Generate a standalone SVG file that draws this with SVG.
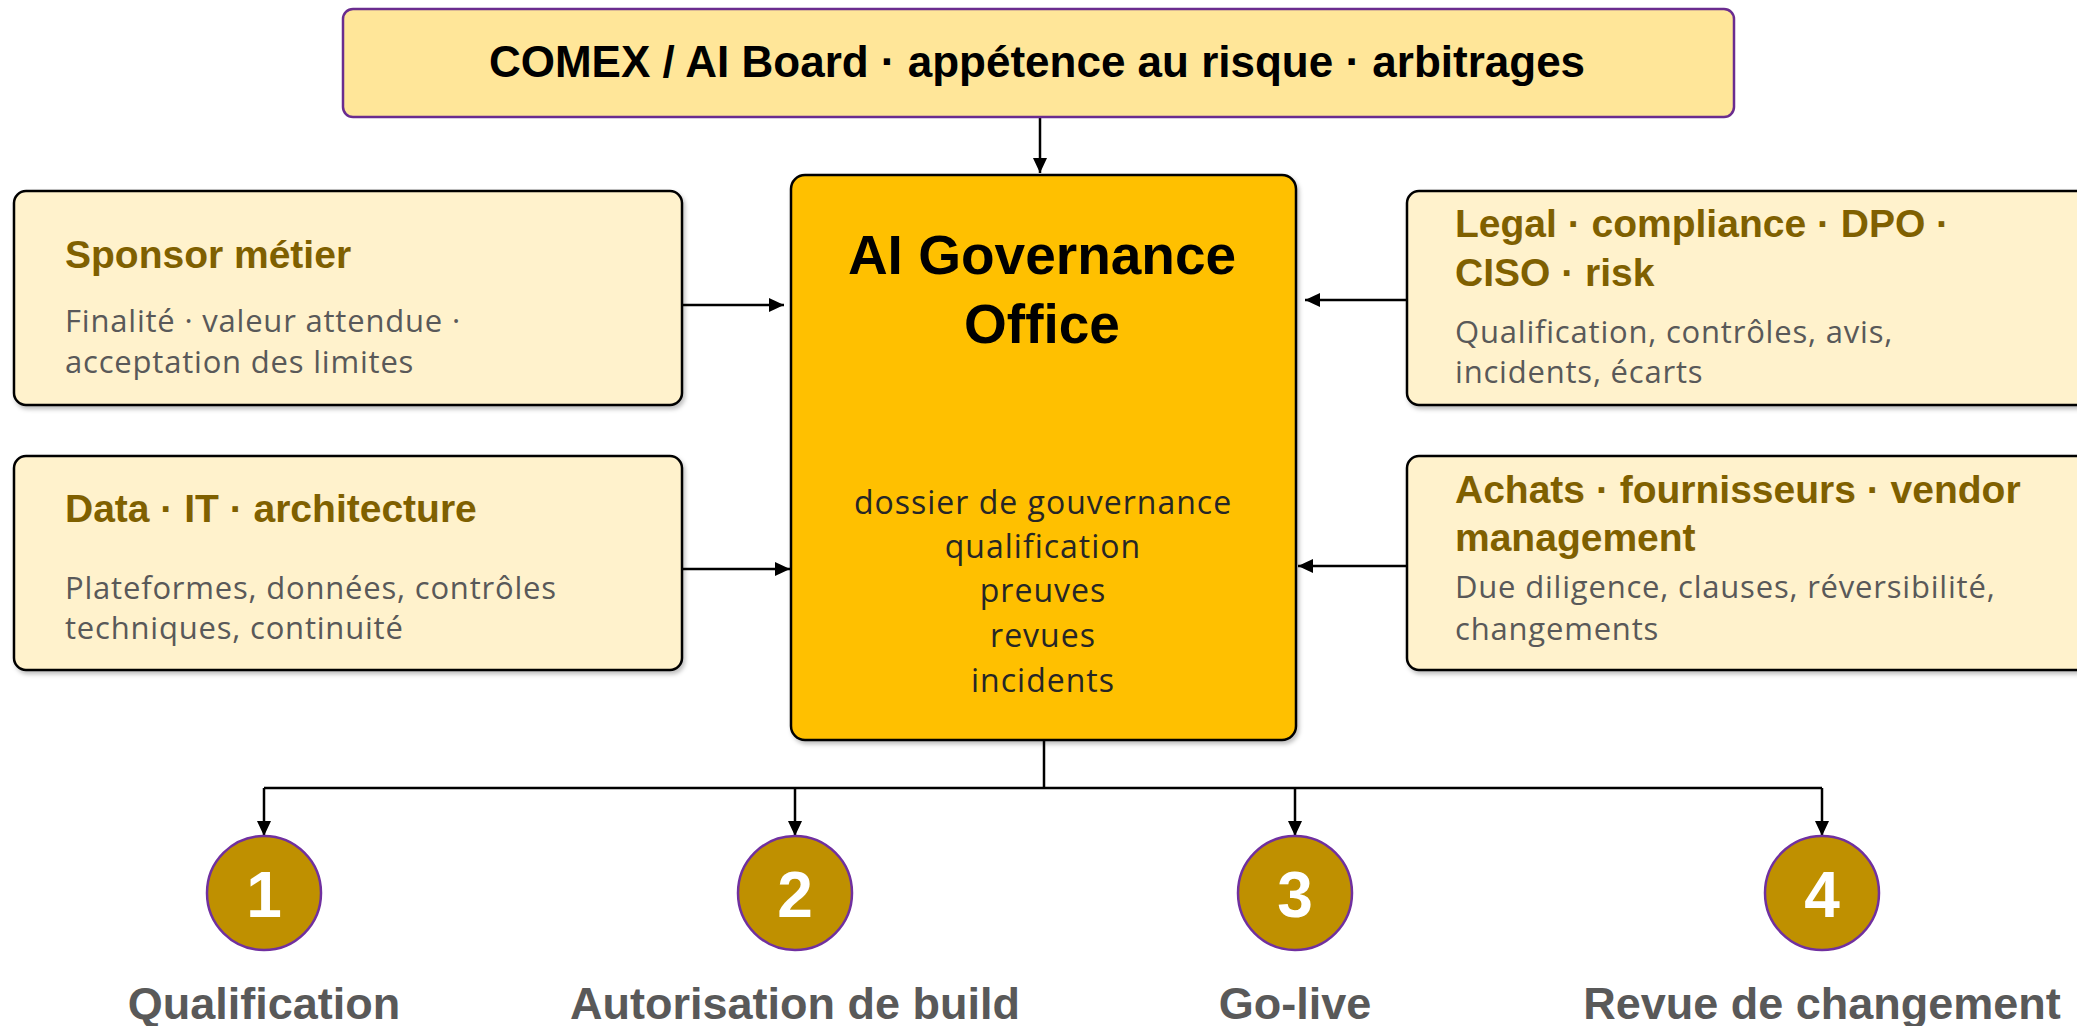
<svg xmlns="http://www.w3.org/2000/svg" width="2077" height="1026" viewBox="0 0 2077 1026">
  <defs>
    <filter id="shadow" x="-5%" y="-5%" width="110%" height="115%">
      <feDropShadow dx="2" dy="3" stdDeviation="2" flood-color="#000" flood-opacity="0.25"/>
    </filter>
    <marker id="arrow" markerUnits="userSpaceOnUse" markerWidth="16" markerHeight="16" viewBox="0 0 16 16" refX="15" refY="8" orient="auto">
      <path d="M0,1 L15,8 L0,15 Z" fill="#000"/>
    </marker>
    <style>
      .side { fill: #FFF2CC; stroke: #000; stroke-width: 2.5; filter: url(#shadow); }
      .ttl { font-family: "Liberation Sans", Arial, sans-serif; font-weight: bold; font-size: 39px; fill: #7F6000; }
      .sub { font-family: "Open Sans", "Liberation Sans", sans-serif; font-size: 31px; letter-spacing: 0.8px; fill: #595959; }
      .body { font-family: "Open Sans", "Liberation Sans", sans-serif; font-size: 32px; letter-spacing: 1px; fill: #262626; text-anchor: middle; }
      .conn { fill: none; stroke: #000; stroke-width: 2.5; }
      .step { fill: #BF9000; stroke: #7030A0; stroke-width: 2.5; }
      .num { font-family: "Liberation Sans", Arial, sans-serif; font-weight: bold; font-size: 64px; fill: #fff; text-anchor: middle; }
      .lbl { font-family: "Liberation Sans", Arial, sans-serif; font-weight: bold; font-size: 45px; fill: #595959; text-anchor: middle; }
    </style>
  </defs>

  <rect width="2077" height="1026" fill="#fff"/>

  <!-- connectors -->
  <g id="connectors">
    <line class="conn" x1="1040" y1="117" x2="1040" y2="173" marker-end="url(#arrow)"/>
    <line class="conn" x1="682" y1="305" x2="784" y2="305" marker-end="url(#arrow)"/>
    <line class="conn" x1="682" y1="569" x2="790" y2="569" marker-end="url(#arrow)"/>
    <line class="conn" x1="1407" y1="300" x2="1305" y2="300" marker-end="url(#arrow)"/>
    <line class="conn" x1="1407" y1="566" x2="1298" y2="566" marker-end="url(#arrow)"/>
    <polyline class="conn" points="1044,740 1044,788"/>
    <line class="conn" x1="264" y1="788" x2="1822" y2="788"/>
    <line class="conn" x1="264" y1="788" x2="264" y2="836" marker-end="url(#arrow)"/>
    <line class="conn" x1="795" y1="788" x2="795" y2="836" marker-end="url(#arrow)"/>
    <line class="conn" x1="1295" y1="788" x2="1295" y2="836" marker-end="url(#arrow)"/>
    <line class="conn" x1="1822" y1="788" x2="1822" y2="836" marker-end="url(#arrow)"/>
  </g>

  <!-- top board -->
  <g id="comex">
    <rect x="343" y="9" width="1391" height="108" rx="10" fill="#FFE699" stroke="#6A2C8F" stroke-width="2.5"/>
    <text x="1037" y="77" text-anchor="middle" font-family="Liberation Sans, Arial, sans-serif" font-weight="bold" font-size="44" fill="#000">COMEX / AI Board · appétence au risque · arbitrages</text>
  </g>

  <!-- central office -->
  <g id="office">
    <rect x="791" y="175" width="505" height="565" rx="14" fill="#FFC000" stroke="#000" stroke-width="2.5" filter="url(#shadow)"/>
    <text x="1042" y="274" text-anchor="middle" font-family="Liberation Sans, Arial, sans-serif" font-weight="bold" font-size="55" fill="#000">AI Governance</text>
    <text x="1042" y="343" text-anchor="middle" font-family="Liberation Sans, Arial, sans-serif" font-weight="bold" font-size="55" fill="#000">Office</text>
    <text class="body" x="1043" y="514">dossier de gouvernance</text>
    <text class="body" x="1043" y="558">qualification</text>
    <text class="body" x="1043" y="602">preuves</text>
    <text class="body" x="1043" y="647">revues</text>
    <text class="body" x="1043" y="692">incidents</text>
  </g>

  <!-- stakeholders, left -->
  <g id="sponsor">
    <rect class="side" x="14" y="191" width="668" height="214" rx="12"/>
    <text class="ttl" x="65" y="268">Sponsor métier</text>
    <text class="sub" x="65" y="332">Finalité · valeur attendue ·</text>
    <text class="sub" x="65" y="373">acceptation des limites</text>
  </g>
  <g id="data-it">
    <rect class="side" x="14" y="456" width="668" height="214" rx="12"/>
    <text class="ttl" x="65" y="522">Data · IT · architecture</text>
    <text class="sub" x="65" y="599">Plateformes, données, contrôles</text>
    <text class="sub" x="65" y="639">techniques, continuité</text>
  </g>

  <!-- stakeholders, right -->
  <g id="legal">
    <rect class="side" x="1407" y="191" width="700" height="214" rx="12"/>
    <text class="ttl" x="1455" y="237">Legal · compliance · DPO ·</text>
    <text class="ttl" x="1455" y="286">CISO · risk</text>
    <text class="sub" x="1455" y="343">Qualification, contrôles, avis,</text>
    <text class="sub" x="1455" y="383">incidents, écarts</text>
  </g>
  <g id="achats">
    <rect class="side" x="1407" y="456" width="700" height="214" rx="12"/>
    <text class="ttl" x="1455" y="503">Achats · fournisseurs · vendor</text>
    <text class="ttl" x="1455" y="551">management</text>
    <text class="sub" x="1455" y="598">Due diligence, clauses, réversibilité,</text>
    <text class="sub" x="1455" y="640">changements</text>
  </g>

  <!-- lifecycle steps -->
  <g id="step1">
    <circle class="step" cx="264" cy="893" r="57"/>
    <text class="num" x="264" y="917">1</text>
    <text class="lbl" x="264" y="1019">Qualification</text>
  </g>
  <g id="step2">
    <circle class="step" cx="795" cy="893" r="57"/>
    <text class="num" x="795" y="917">2</text>
    <text class="lbl" x="795" y="1019">Autorisation de build</text>
  </g>
  <g id="step3">
    <circle class="step" cx="1295" cy="893" r="57"/>
    <text class="num" x="1295" y="917">3</text>
    <text class="lbl" x="1295" y="1019">Go-live</text>
  </g>
  <g id="step4">
    <circle class="step" cx="1822" cy="893" r="57"/>
    <text class="num" x="1822" y="917">4</text>
    <text class="lbl" x="1822" y="1019">Revue de changement</text>
  </g>
</svg>
